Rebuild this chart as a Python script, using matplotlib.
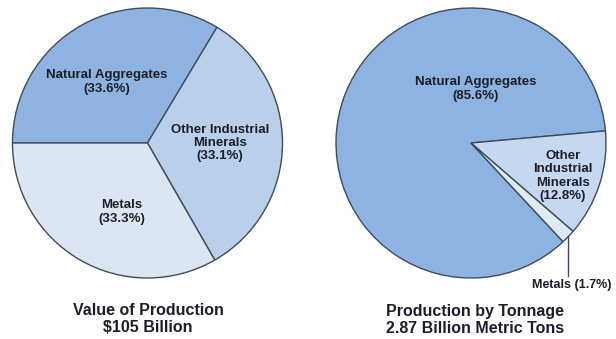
import numpy as np
import matplotlib
matplotlib.use('Agg')
import matplotlib.pyplot as plt

plt.rcParams['font.family'] = ['Liberation Sans', 'DejaVu Sans']

# value of production shares (%)
value_names = ['Natural Aggregates', 'Other Industrial\nMinerals', 'Metals']
value_pct = [33.6, 33.1, 33.3]
value_colors = ['#8eb3e0', '#b9cfea', '#dce5f2']

# production by tonnage shares (%)
ton_names = ['Natural Aggregates', 'Other\nIndustrial\nMinerals', 'Metals']
ton_pct = [85.6, 12.8, 1.7]
ton_colors = ['#8db3e2', '#c6d8ef', '#e0eaf5']

value_title = 'Value of Production\n$105 Billion'
ton_title = 'Production by Tonnage\n2.87 Billion Metric Tons'

W, H = 616, 339
R = 135
edge = '#3f4c5e'
txt = '#1c1f2a'

fig = plt.figure(figsize=(W / 100, H / 100), dpi=100)
ax = fig.add_axes([0, 0, 1, 1])

c1 = (147.5, H - 143)
c2 = (471, H - 143)

ax.pie(value_pct, colors=value_colors, startangle=180, counterclock=False,
       center=c1, radius=R, frame=True,
       wedgeprops=dict(edgecolor=edge, linewidth=1.0))
w2, _ = ax.pie(ton_pct, colors=ton_colors, startangle=313, counterclock=False,
               center=c2, radius=R, frame=True,
               wedgeprops=dict(edgecolor=edge, linewidth=1.0))

lab = dict(ha='center', va='center', fontsize=9.5, fontweight='bold', color=txt,
           linespacing=1.15)

# labels inside the left pie
pos1 = [(107, H - 82), (220, H - 143), (122, H - 212)]
for (x, y), n, p in zip(pos1, value_names, value_pct):
    ax.text(x, y, f'{n}\n({p}%)', **lab)

# labels inside the right pie (metals is called out below the pie)
ax.text(476, H - 89, f'{ton_names[0]}\n({ton_pct[0]}%)', **lab)
ax.text(563, H - 176, f'{ton_names[1]}\n({ton_pct[1]}%)', **lab)

# leader line for the thin metals slice
w = w2[2]
mid = np.deg2rad((w.theta1 + w.theta2) / 2)
ex = c2[0] + R * np.cos(mid)
ey = c2[1] + R * np.sin(mid)
ax.plot([ex, ex], [ey, H - 276], color=edge, linewidth=1.0)
ax.text(572, H - 285, f'{ton_names[2]} ({ton_pct[2]}%)', ha='center', va='center',
        fontsize=9, fontweight='bold', color=txt)

ttl = dict(ha='center', va='center', fontsize=11.5, fontweight='bold', color=txt,
           linespacing=1.15)
ax.text(148, H - 319, value_title, **ttl)
ax.text(475, H - 320, ton_title, **ttl)

ax.set_xlim(0, W)
ax.set_ylim(0, H)
ax.set_aspect('equal')
ax.axis('off')

fig.savefig('out.png', dpi=100, facecolor='white')
